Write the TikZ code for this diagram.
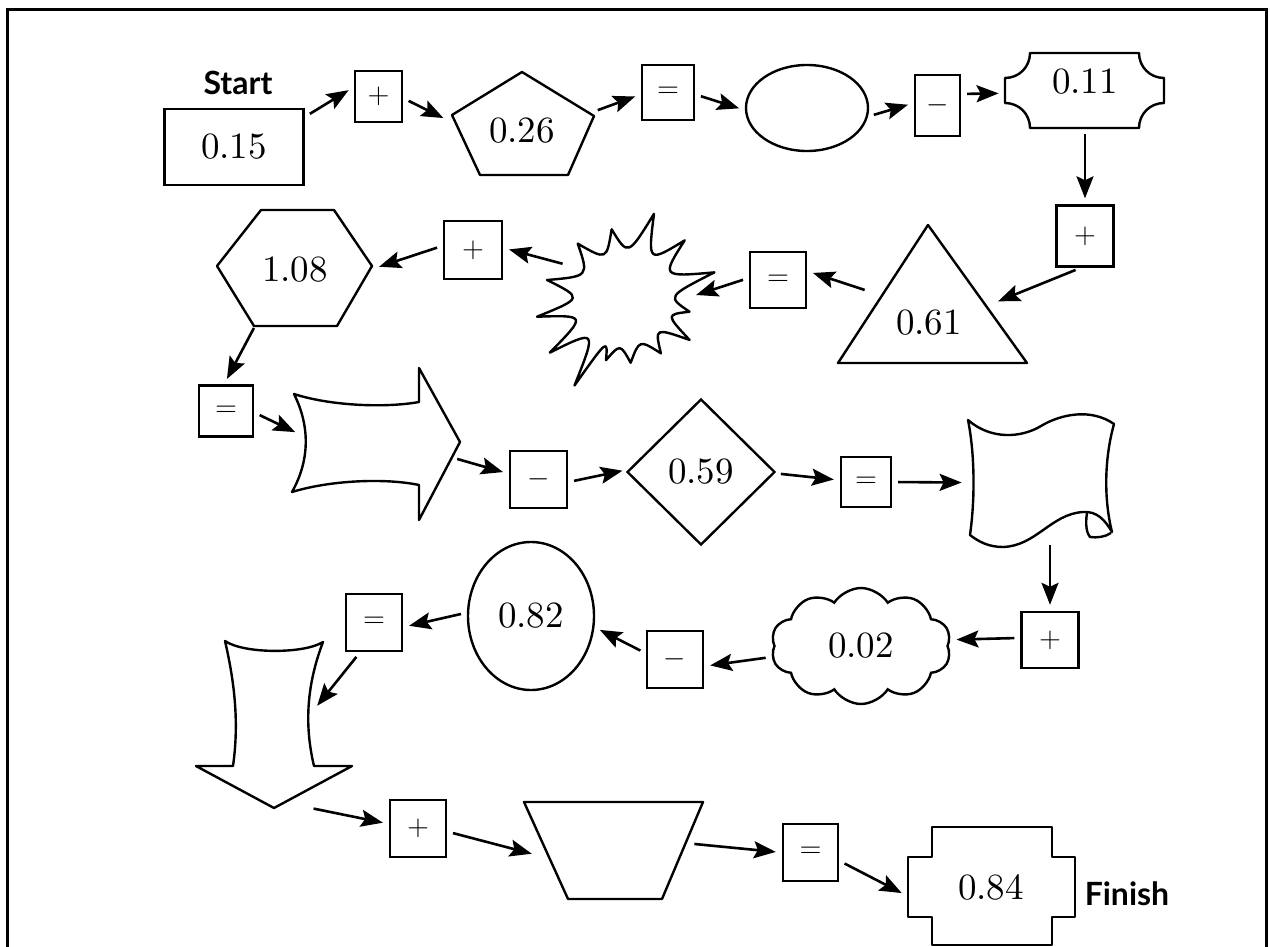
\documentclass[tikz,border=0pt]{standalone}
\usepackage{fontspec}
\usepackage{tikz}
\usetikzlibrary{arrows.meta,shapes.geometric,shapes.symbols}
\newfontfamily\tagfont{Lato}
\newfontfamily\numfont{lmroman10-regular}[Extension=.otf]

\tikzset{
  numtext/.style={font=\numfont\fontsize{18.5}{22}\selectfont},
  opbox/.style={draw, line width=1.2pt, inner sep=0pt, font=\fontsize{14}{16}\selectfont},
  hidden/.style={inner sep=0pt, numtext},
  outline/.style={line width=1.2pt, line join=round},
  flow/.style={-{Stealth[length=11pt,width=8.5pt,inset=2pt]}, line width=1.3pt,
               shorten <=3pt, shorten >=3pt},
  tag/.style={font={\tagfont\bfseries\fontsize{16}{19}\selectfont}}
}

\begin{document}
\begin{tikzpicture}[x=0.5pt,y=-0.5pt]
\useasboundingbox (0,0) rectangle (1270,947);
\draw[line width=1.5pt] (7,1000) -- (7,10) -- (1266,10) -- (1266,1000);

\node[tag] (start) at (238,83) {Start};
\node[draw, line width=1.2pt, numtext, minimum width=69.5pt, minimum height=38pt] (v015) at (234,147) {0.15};
\node[opbox, minimum width=23.5pt, minimum height=25.5pt] (plus1) at (378.5,96.5) {$+$};
\node[hidden, ellipse, minimum width=74pt, minimum height=56pt] (pent) at (522,131) {0.26};
\draw[outline, shift={(pent)}] (0,-59) -- (72,-15) -- (46,44) -- (-42,44) -- (-70,-16) -- cycle;
\node[opbox, minimum width=26pt, minimum height=27.5pt] (eq1) at (668,92.5) {$=$};
\node[draw, ellipse, line width=1.2pt, minimum width=61pt, minimum height=43pt] (oval1) at (807,108) {};
\node[opbox, minimum width=22.5pt, minimum height=30.5pt] (minus1) at (937.5,105.5) {$-$};
\node[hidden, minimum width=80pt, minimum height=46pt] (plaque) at (1085,82) {0.11};
\draw[outline, shift={(plaque)}] (-80,-4) -- (-80,21) .. controls (-66,21) and (-55,32) .. (-55,46)
  -- (54,46) .. controls (54,32) and (65,21) .. (79,21) -- (79,-4)
  .. controls (65,-4) and (54,-15) .. (54,-29) -- (-55,-29)
  .. controls (-55,-15) and (-66,-4) .. (-80,-4) -- cycle;

\node[opbox, minimum width=28.5pt, minimum height=30.5pt] (plus2) at (1085,236) {$+$};
\node[hidden, circle, minimum size=66pt] (tri) at (929,323) {0.61};
\draw[outline, shift={(tri)}] (-1,-98) -- (98,40) -- (-91,40) -- cycle;
\node[opbox, minimum width=28pt, minimum height=28pt] (eq2) at (778,280) {$=$};
\node[hidden, circle, minimum size=65pt] (burst) at (625,298) {};
\draw[outline, shift={(burst)}] (-71:89) .. controls (-57:42) .. (-44:83) .. controls (-30:42) .. (-16:93)
  .. controls (-2:42) .. (12:66) .. controls (22:44) .. (33:77) .. controls (45:42) .. (57:66)
  .. controls (71:44) .. (85:65) .. controls (96:46) .. (107:65) .. controls (113:44) .. (120:101)
  .. controls (132:42) .. (144:93) .. controls (156:42) .. (168:90) .. controls (180:42) .. (193:80)
  .. controls (211:42) .. (229:72) .. controls (244:42) .. (259:70) .. controls (274:42) .. cycle;
\node[opbox, minimum width=29pt, minimum height=29pt] (plus3) at (473,250) {$+$};
\node[hidden, ellipse, minimum width=78pt, minimum height=60pt] (hexa) at (295,270) {1.08};
\draw[outline, shift={(hexa)}] (-78,-4) -- (-34,-60) -- (39,-60) -- (77,-4) -- (42,56) -- (-41,56) -- cycle;

\node[opbox, minimum width=27pt, minimum height=25.5pt] (eq3) at (226,411) {$=$};
\node[hidden, minimum width=75pt, minimum height=70pt] (bend) at (376,444) {};
\draw[outline, shift={(bend)}] (-82,-50) .. controls (-45,-38) and (10,-36) .. (43,-42) -- (43,-76)
  -- (84,-2) -- (43,76) -- (43,41) .. controls (10,34) and (-45,36) .. (-84,48)
  .. controls (-66,16) and (-66,-18) .. cycle;
\node[opbox, minimum width=28.5pt, minimum height=28.5pt] (minus2) at (538.5,479.5) {$-$};
\node[draw, diamond, line width=1.2pt, numtext, inner sep=0pt, minimum width=74pt, minimum height=73pt] (rhomb) at (701,472) {0.59};
\node[opbox, minimum width=25pt, minimum height=25pt] (eq4) at (866,482) {$=$};
\node[hidden, minimum width=73pt, minimum height=65pt] (flag) at (1041,480) {};
\draw[outline, shift={(flag)}] (-73,-60) .. controls (-50,-40) and (-20,-42) .. (0,-54)
  .. controls (20,-66) and (50,-72) .. (73,-56) .. controls (63,-20) and (63,20) .. (71,52)
  .. controls (64,40) and (56,31) .. (42,32) .. controls (10,34) and (-5,66) .. (-38,67)
  .. controls (-52,67) and (-62,62) .. (-71,55) .. controls (-66,20) and (-66,-25) .. cycle;
\draw[outline, shift={(flag)}] (46,33) .. controls (44,45) and (46,54) .. (49,57)
  .. controls (56,58) and (64,57) .. (70,53);

\node[opbox, minimum width=28.5pt, minimum height=28pt] (plus4) at (1050,640) {$+$};
\node[draw, cloud, cloud puffs=10, cloud puff arc=115, aspect=1.5, line width=1.2pt, numtext,
      inner sep=0pt, minimum width=90pt, minimum height=58pt] (cloud) at (861,646) {0.02};
\node[opbox, minimum width=28pt, minimum height=28.5pt] (minus3) at (675,659.5) {$-$};
\node[draw, ellipse, line width=1.2pt, numtext, minimum width=63pt, minimum height=74pt] (oval2) at (531,616) {0.82};
\node[opbox, minimum width=28pt, minimum height=28.5pt] (eq5) at (374,622.5) {$=$};
\node[hidden, minimum width=39pt, minimum height=83pt] (darrow) at (274,724) {};
\draw[outline, shift={(darrow)}] (-49,-83) .. controls (-30,-70) and (30,-70) .. (49,-82)
  .. controls (33,-40) and (30,0) .. (40,42) -- (78,42) -- (0,84) -- (-78,42) -- (-41,42)
  .. controls (-35,0) and (-39,-40) .. cycle;

\node[opbox, minimum width=28pt, minimum height=28.5pt] (plus5) at (418,828.5) {$+$};
\node[hidden, minimum width=75pt, minimum height=50pt] (trap) at (613,850) {};
\draw[outline, shift={(trap)}] (-89,-48) -- (90,-48) -- (49,49) -- (-45,49) -- cycle;
\node[opbox, minimum width=27.5pt, minimum height=28.5pt] (eq6) at (810.5,852.5) {$=$};
\node[hidden, minimum width=83.5pt, minimum height=60pt] (cross) at (991,887) {0.84};
\draw[outline, shift={(cross)}] (-59,-60) -- (61,-60) -- (61,-30) -- (84,-30) -- (84,30) -- (61,30)
  -- (61,58) -- (-59,58) -- (-59,30) -- (-83,30) -- (-83,-30) -- (-59,-30) -- cycle;
\node[tag] (finish) at (1127,894) {Finish};

\draw[flow] (v015.23) -- (plus1.159);
\draw[flow] (plus1.-4) -- (pent.172);
\draw[flow] (pent.15) -- (eq1.184);
\draw[flow] (eq1.-4) -- (oval1.182);
\draw[flow] (oval1.-8) -- (minus1.174);
\draw[flow] (minus1.26) -- (plaque.188);
\draw[flow] (plaque.south) -- (plus2.north);
\draw[flow] (plus2.-97) -- (tri.17);
\draw[flow] (tri.152) -- (eq2.17);
\draw[flow] (eq2.176) -- (burst.1);
\draw[flow] (burst.150) -- (plus3.4);
\draw[flow] (plus3.172) -- (hexa.1);
\draw[flow] (hexa.-126) -- (eq3.94);
\draw[flow] (eq3.-3) -- (bend.173);
\draw[flow] (bend.-10) -- (minus2.169);
\draw[flow] (minus2.-5) -- (rhomb.178);
\draw[flow] (rhomb.-1) -- (eq4.176);
\draw[flow] (eq4.east) -- (flag.182);
\draw[flow, shorten <=0pt] (flag.south -| plus4) -- (plus4.north);
\draw[flow] (plus4.176) -- (cloud.4);
\draw[flow] (cloud.187) -- (minus3.-13);
\draw[flow] (minus3.168) -- (oval2.-10);
\draw[flow] (oval2.177) -- (eq5.-9);
\draw[flow] (eq5.-115) -- (darrow.19);
\draw[flow] (darrow.-68) -- (plus5.171);
\draw[flow] (plus5.-6) -- (trap.184);
\draw[flow] (trap.5) -- (eq6.west);
\draw[flow] (eq6.-16) -- (cross.186);
\end{tikzpicture}
\end{document}
